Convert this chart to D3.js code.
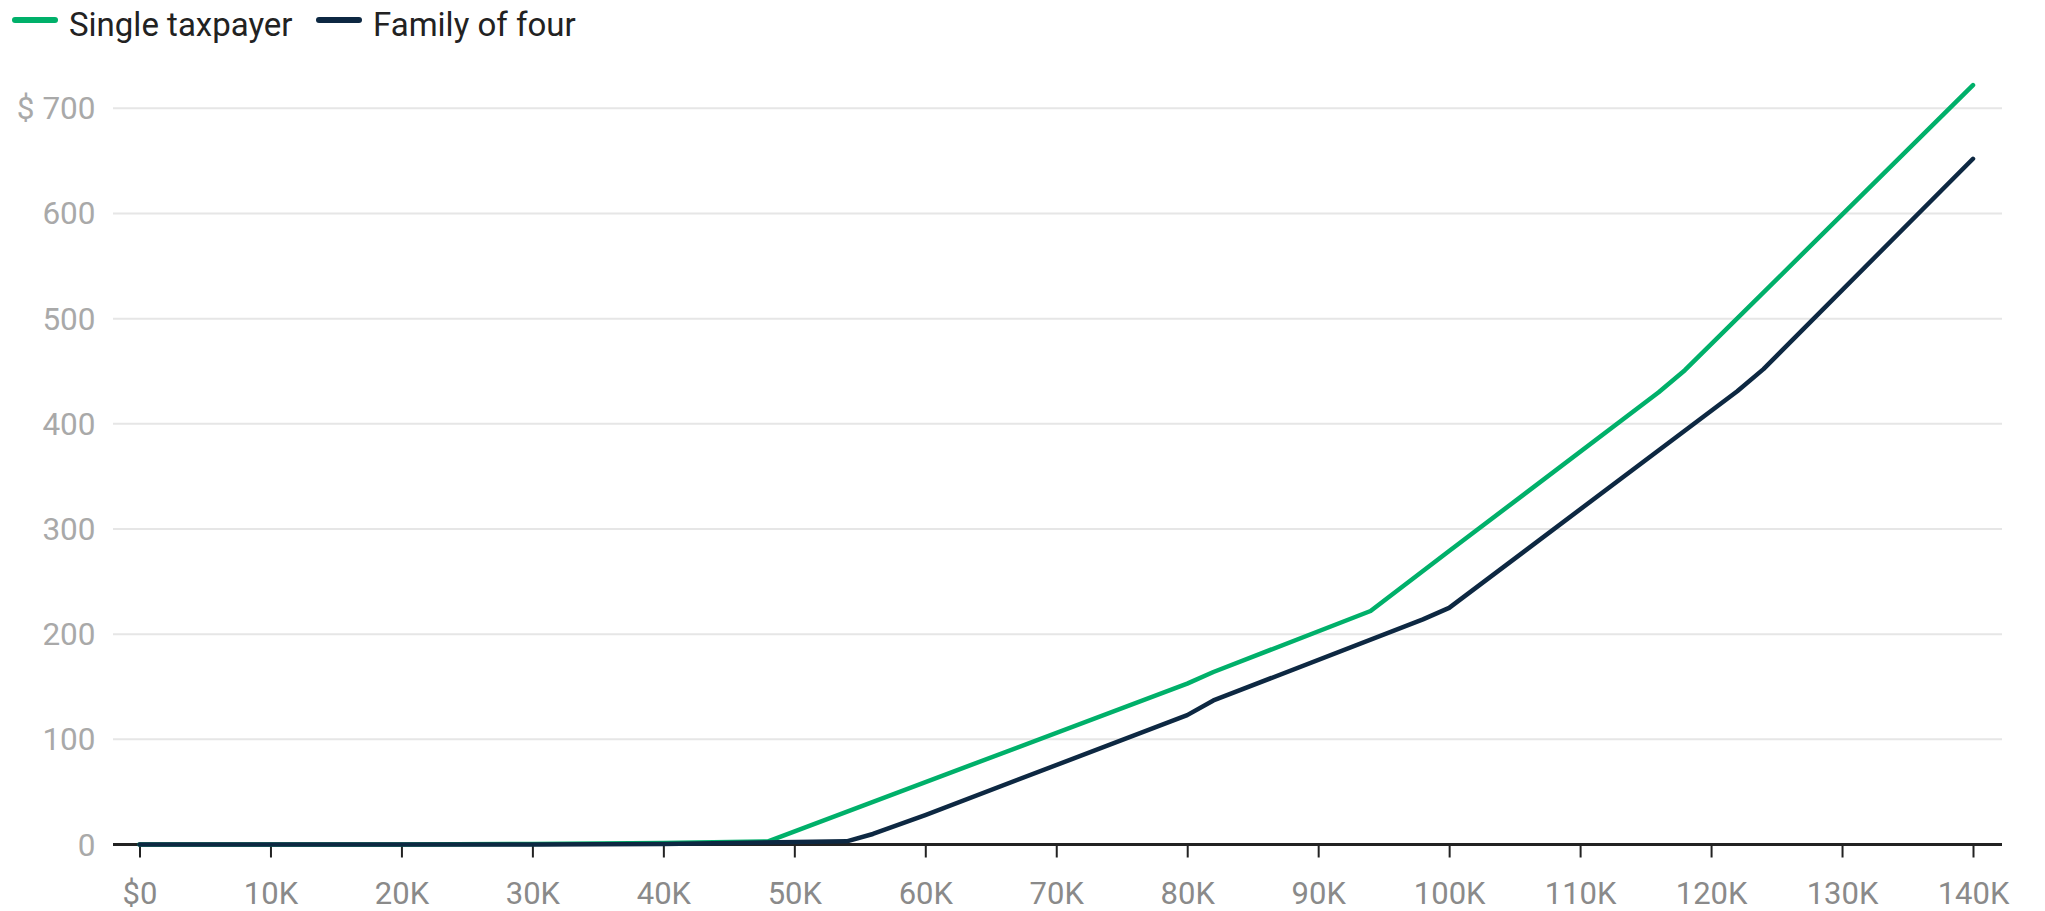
<!DOCTYPE html>
<html>
<head>
<meta charset="utf-8">
<script src="https://cdn.jsdelivr.net/npm/d3@7"></script>
<style>
html,body{margin:0;padding:0;background:#fff;}
svg{display:block;font-family:Roboto,"Noto Sans",sans-serif;}
</style>
</head>
<body>
<svg id="chart" width="2045" height="911"></svg>
<script>
// Income (thousands of dollars)
const incomeSingle = [0, 10, 20, 30, 40, 48, 80, 82, 94, 100, 116, 118, 140];
const singleTax    = [0, 0, 0, 0.5, 1.5, 3, 153, 164, 222, 279, 430, 451, 722];
const incomeFamily = [0, 10, 20, 30, 40, 54, 56, 60, 80, 82, 98, 100, 122, 124, 140];
const familyTax    = [0, 0, 0, 0, 0.5, 3, 10, 28, 123, 137, 214, 225, 431, 452, 652];
const seriesNames  = ["Single taxpayer", "Family of four"];
const seriesColors = ["#00b06a", "#0d2842"];
const xTicks = [0,10,20,30,40,50,60,70,80,90,100,110,120,130,140];
const yTicks = [0,100,200,300,400,500,600,700];

const svg = d3.select("#chart");
const x = d3.scaleLinear().domain([0,140]).range([139.5,1973]);
const y = d3.scaleLinear().domain([0,700]).range([844.5,108.3]);
const gridX0 = 113, gridX1 = 2002;

// gridlines
svg.append("g").selectAll("line").data(yTicks.filter(d=>d>0)).join("line")
  .attr("x1",gridX0).attr("x2",gridX1)
  .attr("y1",d=>y(d)).attr("y2",d=>y(d))
  .attr("stroke","#e6e6e6").attr("stroke-width",2);

// y labels
svg.append("g").selectAll("text").data(yTicks).join("text")
  .attr("x",95.5).attr("y",d=>y(d)+11)
  .attr("text-anchor","end")
  .attr("fill","#a9a9a9").attr("font-size",31.5)
  .text(d=> d===700 ? "$ 700" : d);

// x axis
const xAxis = d3.axisBottom(x).tickValues(xTicks).tickSize(13).tickPadding(0)
  .tickFormat(d=> d===0 ? "$0" : d+"K");
const gx = svg.append("g").attr("transform",`translate(0,${y(0)})`).call(xAxis);
gx.select(".domain").remove();
gx.selectAll(".tick line").attr("stroke","#222").attr("stroke-width",2);
gx.selectAll(".tick text").attr("fill","#8a8a8a").attr("font-size",31)
  .attr("font-family","Roboto, sans-serif")
  .attr("dy",null).attr("y",59.5);
svg.append("line").attr("x1",gridX0).attr("x2",gridX1)
  .attr("y1",y(0)).attr("y2",y(0)).attr("stroke","#222").attr("stroke-width",3);

// lines
const line = d3.line().x(d=>x(d[0])).y(d=>y(d[1]));
const data = [
  d3.zip(incomeSingle, singleTax),
  d3.zip(incomeFamily, familyTax)
];
svg.append("g").selectAll("path").data(data).join("path")
  .attr("d",line).attr("fill","none")
  .attr("stroke",(d,i)=>seriesColors[i]).attr("stroke-width",4.5)
  .attr("stroke-linejoin","round").attr("stroke-linecap","round");

// legend
const legend = svg.append("g").attr("transform","translate(13,20)");
const legX = [0, 304];
seriesNames.forEach((n,i)=>{
  const g = legend.append("g").attr("transform",`translate(${legX[i]},0)`);
  g.append("line").attr("x1",2).attr("x2",42).attr("y1",0).attr("y2",0)
    .attr("stroke",seriesColors[i]).attr("stroke-width",6).attr("stroke-linecap","round");
  g.append("text").attr("x",56).attr("y",16)
    .attr("font-size",33).attr("fill","#222").text(n);
});
</script>
</body>
</html>
